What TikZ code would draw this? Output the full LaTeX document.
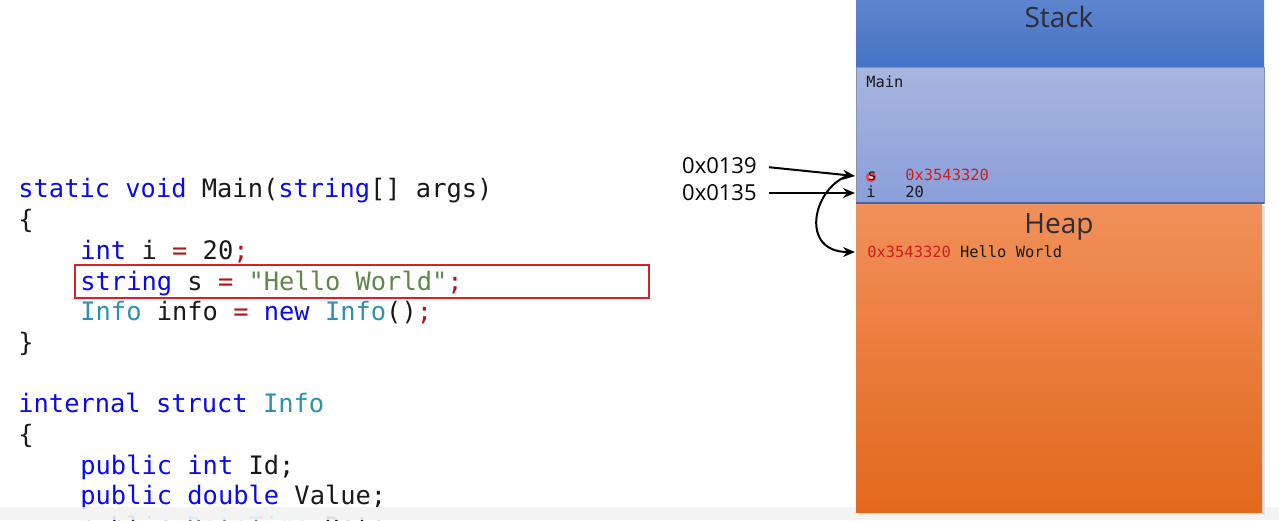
\documentclass[tikz,border=0pt]{standalone}
\usepackage{fontspec}
\setmainfont{Open Sans}
\newfontfamily\codefont{DejaVu Sans Mono}
\usepackage{xcolor}
\usetikzlibrary{arrows.meta}
\definecolor{codeink}{RGB}{25,25,25}
\definecolor{kwblue}{RGB}{10,10,235}
\definecolor{typeteal}{RGB}{43,145,175}
\definecolor{strgreen}{RGB}{96,135,75}
\definecolor{opred}{RGB}{175,20,25}
\definecolor{addrred}{RGB}{205,30,35}
\definecolor{boxred}{RGB}{220,30,40}
\definecolor{titleink}{RGB}{45,45,55}
\definecolor{stacktop}{RGB}{93,133,206}
\definecolor{stackbot}{RGB}{70,115,198}
\definecolor{frametop}{RGB}{168,181,224}
\definecolor{framebot}{RGB}{137,159,218}
\definecolor{frameline}{RGB}{70,100,175}
\definecolor{heaptop}{RGB}{241,144,90}
\definecolor{heapmid}{RGB}{243,126,40}
\definecolor{heapbot}{RGB}{226,104,28}
\newcommand{\kw}[1]{\textcolor{kwblue}{#1}}
\newcommand{\ty}[1]{\textcolor{typeteal}{#1}}
\newcommand{\str}[1]{\textcolor{strgreen}{#1}}
\newcommand{\op}[1]{\textcolor{opred}{#1}}

\begin{document}
\begin{tikzpicture}[x=0.5pt,y=-0.5pt,
  code/.style={anchor=base west,inner sep=0pt,text=codeink,
    font=\codefont\fontsize{12.7}{15}\selectfont},
  mem/.style={anchor=base west,inner sep=0pt,text=codeink,
    font=\codefont\fontsize{7.7}{9}\selectfont},
  addr/.style={anchor=east,inner sep=0pt,text=black,font=\fontsize{11}{13}\selectfont},
  title/.style={text=titleink,font=\fontsize{14}{16}\selectfont},
  ptr/.style={line width=1pt,-{Stealth[length=6pt,width=5pt]}}]
\useasboundingbox (0,0) rectangle (1279,520);
% source code
\node[code] (c1) at (18,197) {\kw{static void} Main(\kw{string}[] args)};
\node[code] (c2) at (18,228) {\{};
\node[code] (c3) at (80,259) {\kw{int} i \op{=} 20\op{;}};
\node[code] (c4) at (80,290) {\kw{string} s \op{=} \str{"Hello World"}\op{;}};
\node[code] (c5) at (80,320) {\ty{Info} info \op{=} \kw{new} \ty{Info}()\op{;}};
\node[code] (c6) at (18,351) {\}};
\node[code] (c7) at (18,412) {\kw{internal struct} \ty{Info}};
\node[code] (c8) at (18,443) {\{};
\node[code] (c9) at (80,474) {\kw{public int} Id;};
\node[code] (c10) at (80,504) {\kw{public double} Value;};
\node[code] (c11) at (80,535) {\kw{public} \ty{DateTime} Date;};
\draw[boxred,line width=1pt] (75,265) rectangle (649,298);
\fill[gray!10,opacity=0.9] (0,507) rectangle (1279,520);
% stack and heap
\fill[gray!22] (858,206) rectangle (1265,515);
\shade[top color=stacktop,bottom color=stackbot] (856,0) rectangle (1264,67);
\shade[top color=frametop,bottom color=framebot] (856,67) rectangle (1264,203);
\draw[frametop!80!black,line width=0.5pt] (856,67) rectangle (1264,203);
\draw[frameline,line width=1pt] (856,203) -- (1264,203);
\shade[top color=heaptop,middle color=heapmid,bottom color=heapbot] (856,204) rectangle (1262,512);
\node[title] (stack) at (1059,17) {Stack};
\node[title] (heap) at (1059,227) {Heap};
\node[mem] (main) at (866,87) {Main};
\fill[red!85,opacity=0.75] (871,177) circle (2.6pt);
\fill[red!25] (871,177) circle (1.2pt);
\node[mem] (varS) at (867,180) {s};
\node[mem,text=addrred] (valS) at (905,180) {0x3543320};
\node[mem] (varI) at (866,197) {i};
\node[mem] (valI) at (905,197) {20};
\node[mem] (heapS) at (867,257) {\textcolor{addrred}{0x3543320} Hello World};
\coordinate (slotS) at (855,176);
\coordinate (slotI) at (855,193);
\coordinate (slotH) at (855,252);
% addresses
\node[addr] (a139) at (757,166) {0x0139};
\node[addr] (a135) at (757,193) {0x0135};
\draw[ptr,shorten <=6pt] (a139.east) -- (slotS);
\draw[ptr,shorten <=6pt] (a135.east) -- (slotI);
\draw[ptr] ([xshift=-4pt]slotS) .. controls (812,190) and (800,252) .. (slotH);
\end{tikzpicture}
\end{document}
